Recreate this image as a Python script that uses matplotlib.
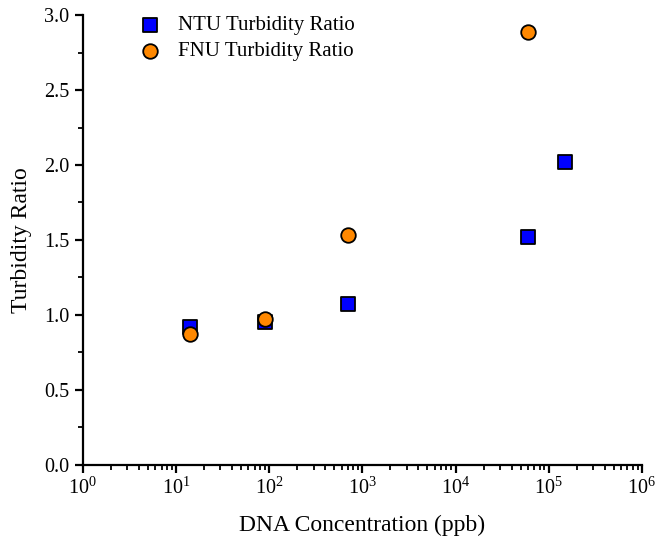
import matplotlib
matplotlib.use('Agg')
import matplotlib.pyplot as plt
from matplotlib.ticker import LogLocator, MultipleLocator, FixedLocator

plt.rcParams['font.family'] = ['Liberation Serif', 'DejaVu Serif']
plt.rcParams['mathtext.fontset'] = 'stix'

ntu_conc = [14, 90, 700, 60000, 150000]
ntu_ratio = [0.92, 0.95, 1.07, 1.52, 2.02]
fnu_conc = [14, 90, 700, 60000]
fnu_ratio = [0.87, 0.97, 1.53, 2.89]

fig = plt.figure(figsize=(6.57, 5.38), dpi=100)
ax = fig.add_axes([0.126, 0.136, 0.851, 0.836])

ax.scatter(ntu_conc, ntu_ratio, marker='s', s=95, color='#0000ff',
           edgecolors='black', linewidths=1.3, label='NTU Turbidity Ratio', zorder=3)
ax.scatter(fnu_conc, fnu_ratio, marker='o', s=110, color='#ff8800',
           edgecolors='black', linewidths=1.3, label='FNU Turbidity Ratio', zorder=4)

ax.set_xscale('log')
ax.set_xlim(1, 1e6)
ax.set_ylim(0, 3.0)
ax.xaxis.set_major_locator(FixedLocator([10.0 ** k for k in range(7)]))
ax.xaxis.set_minor_locator(LogLocator(base=10, subs=range(2, 10), numticks=20))
ax.yaxis.set_major_locator(MultipleLocator(0.5))
ax.yaxis.set_minor_locator(MultipleLocator(0.25))
ax.yaxis.set_major_formatter(matplotlib.ticker.FormatStrFormatter('%.1f'))

for side in ['top', 'right']:
    ax.spines[side].set_visible(False)
for side in ['left', 'bottom']:
    ax.spines[side].set_linewidth(1.6)

ax.tick_params(which='major', direction='out', length=6, width=1.6, labelsize=14.5)
ax.tick_params(which='minor', direction='out', length=3.5, width=1.3)

ax.set_xlabel('DNA Concentration (ppb)', fontsize=17, labelpad=11)
ax.set_ylabel('Turbidity Ratio', fontsize=17, labelpad=9)

ax.legend(loc='upper left', bbox_to_anchor=(0.05, 1.04), frameon=False,
          fontsize=15, handletextpad=0.35, labelspacing=0.3, scatterpoints=1)

fig.savefig('out.png', dpi=100)
